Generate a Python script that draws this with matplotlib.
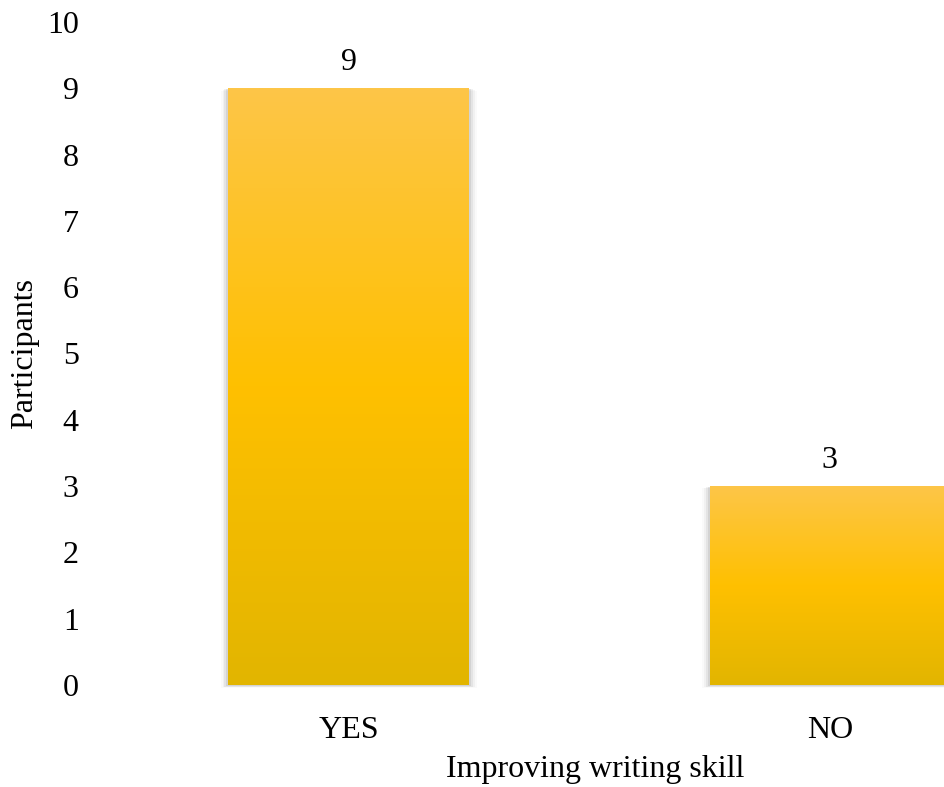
import numpy as np
import matplotlib.pyplot as plt
from matplotlib.colors import LinearSegmentedColormap
from matplotlib.patches import Rectangle

plt.rcParams['font.family'] = ['Liberation Serif', 'DejaVu Serif']

categories = ['YES', 'NO']
participants = [9, 3]
y_ticks = list(range(0, 11))

fig = plt.figure(figsize=(9.44, 7.87), dpi=100)
ax = fig.add_axes([108 / 944, 102 / 787, (944 - 108) / 944, (685 - 22) / 787])

x = np.arange(len(categories))
width = 0.5
bars = ax.bar(x, participants, width=width, color='none', zorder=3)

# Excel-style vertical gradient fill, light on top and darker toward the base
grad = LinearSegmentedColormap.from_list(
    'gold', ['#E2B500', '#FFC000', '#FDC648'])
gradient = np.linspace(0, 1, 256).reshape(-1, 1)

for value, bar in zip(participants, bars):
    x0, y0 = bar.get_x(), bar.get_y()
    w, h = bar.get_width(), bar.get_height()
    # soft shadow around the bar
    for i, a in enumerate([0.07, 0.05, 0.035, 0.02]):
        dx = 0.004 * (i + 1)
        dy = 0.012 * (i + 1)
        ax.add_patch(Rectangle((x0 - dx, y0 - dy), w + 2 * dx, h + dy * 0.3,
                               facecolor='black', edgecolor='none', alpha=a,
                               zorder=1, clip_on=False))
    img = ax.imshow(gradient, extent=(x0, x0 + w, y0, y0 + h), aspect='auto',
                    cmap=grad, origin='lower', zorder=2, interpolation='bilinear')
    img.set_clip_path(Rectangle((x0, y0), w, h, transform=ax.transData))
    ax.text(x0 + w / 2, h + 0.17, f'{value}', ha='center', va='bottom', fontsize=23)

ax.set_xlim(-0.5, 1.237)
ax.set_ylim(0, 10)
ax.set_xticks(x)
ax.set_xticklabels(categories)
ax.set_yticks(y_ticks)
ax.tick_params(axis='both', length=0, labelsize=23)
ax.tick_params(axis='y', pad=21)
ax.tick_params(axis='x', pad=22)
for s in ax.spines.values():
    s.set_visible(False)

ax.set_xlabel('Improving writing skill', fontsize=23)
ax.set_ylabel('Participants', fontsize=23)
ax.xaxis.set_label_coords(0.5825, -0.128)
ax.xaxis.label.set_va('center')
ax.yaxis.set_label_coords(-0.0993, 0.5)
ax.yaxis.label.set_va('center')

fig.savefig('out.png', dpi=100)
